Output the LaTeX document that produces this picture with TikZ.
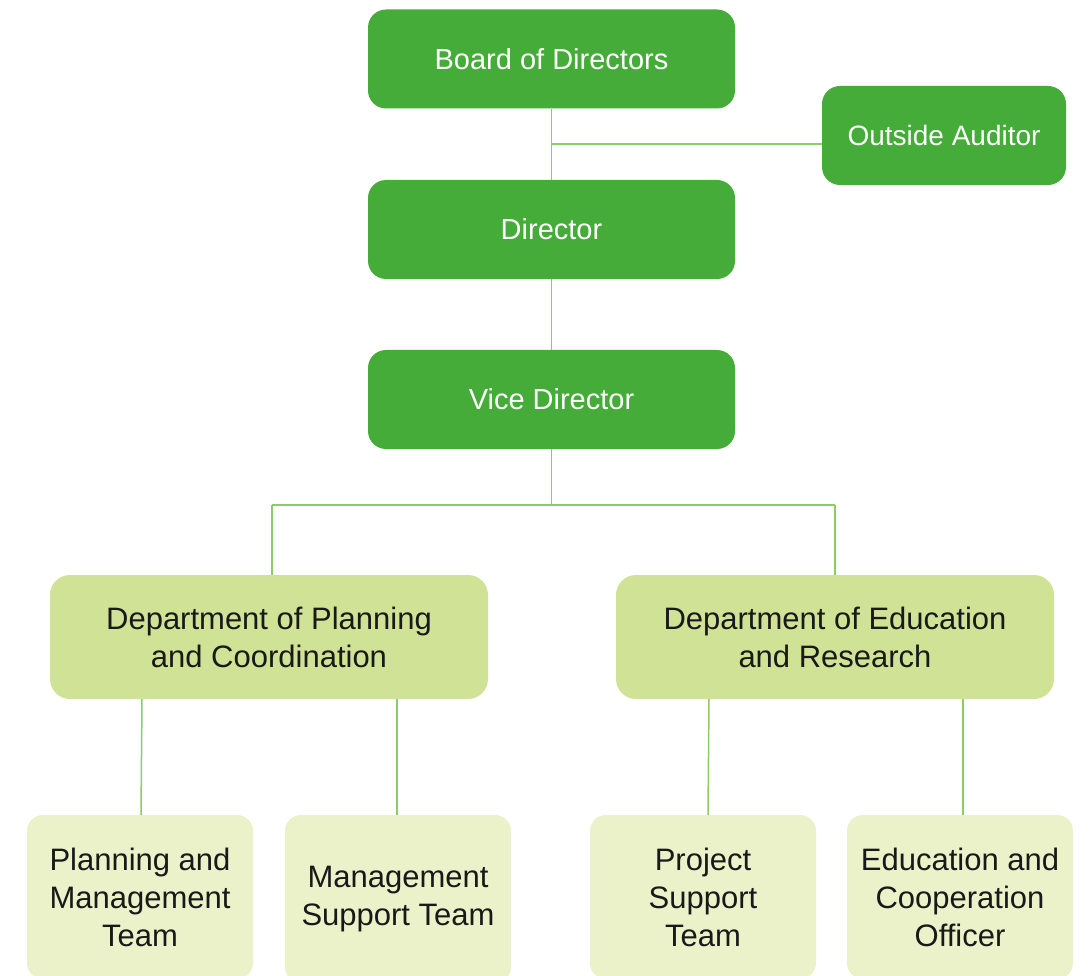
\documentclass[tikz,border=0pt]{standalone}
\usepackage{fontspec}
\setmainfont{Liberation Sans}
\definecolor{dkgreen}{HTML}{45AB39}
\definecolor{midgreen}{HTML}{D0E295}
\definecolor{ltgreen}{HTML}{EBF2C9}
\definecolor{linegreen}{HTML}{8CCB66}
\tikzset{
  topbox/.style={draw=none, fill=dkgreen, rounded corners=18pt, text=white,
    inner sep=0pt, align=center, font=\fontsize{29}{36}\selectfont},
  deptbox/.style={draw=none, fill=midgreen, rounded corners=20pt, text=black!90,
    inner sep=0pt, align=center, font=\fontsize{31}{38}\selectfont,
    minimum width=438pt, minimum height=124pt},
  teambox/.style={draw=none, fill=ltgreen, rounded corners=16pt, text=black!90,
    inner sep=0pt, align=center, font=\fontsize{31}{38}\selectfont,
    minimum width=226pt, minimum height=164pt},
  conn/.style={draw=linegreen, line width=1.5pt}
}
\begin{document}
\begin{tikzpicture}[x=1pt,y=-1pt]
\clip (0,0) rectangle (1090,976);
\useasboundingbox (0,0) rectangle (1090,976);
\fill[white] (0,0) rectangle (1090,976);
% top level
\node[topbox, minimum width=367pt, minimum height=99pt] (board) at (551.5,59) {Board of Directors};
\node[topbox, minimum width=244pt, minimum height=99pt, font=\fontsize{28}{34}\selectfont] (aud) at (944,135.5) {Outside Auditor};
\node[topbox, minimum width=367pt, minimum height=99pt] (dir) at (551.5,229.5) {Director};
\node[topbox, minimum width=367pt, minimum height=99pt] (vice) at (551.5,399.5) {Vice Director};
% departments
\node[deptbox] (dplan) at (269,637) {Department of Planning\\and Coordination};
\node[deptbox] (dedu) at (835,637) {Department of Education\\and Research};
% teams
\node[teambox] (t1) at (140,897) {Planning and\\Management\\Team};
\node[teambox, minimum height=168pt] (t2) at (398,899) {Management\\Support Team};
\node[teambox] (t3) at (703,897) {Project\\Support\\Team};
\node[teambox] (t4) at (960,897) {Education and\\Cooperation\\Officer};
% connectors
\coordinate (j1) at (551.5,144);
\draw[conn] (board.south) -- (dir.north);
\draw[conn] (j1) -- (j1 -| aud.west);
\draw[conn] (dir.south) -- (vice.north);
\coordinate (j2) at (551.5,505);
\draw[conn] (vice.south) -- (j2);
\draw[conn] (272,505) -- (835,505);
\draw[conn] (272,505) -- (272,575);
\draw[conn] (835,505) -- (dedu.north);
\draw[conn] (142,699) -- (141,815);
\draw[conn] (397,699) -- (397,815);
\draw[conn] (709,699) -- (708,815);
\draw[conn] (963,699) -- (963,815);
\end{tikzpicture}
\end{document}
